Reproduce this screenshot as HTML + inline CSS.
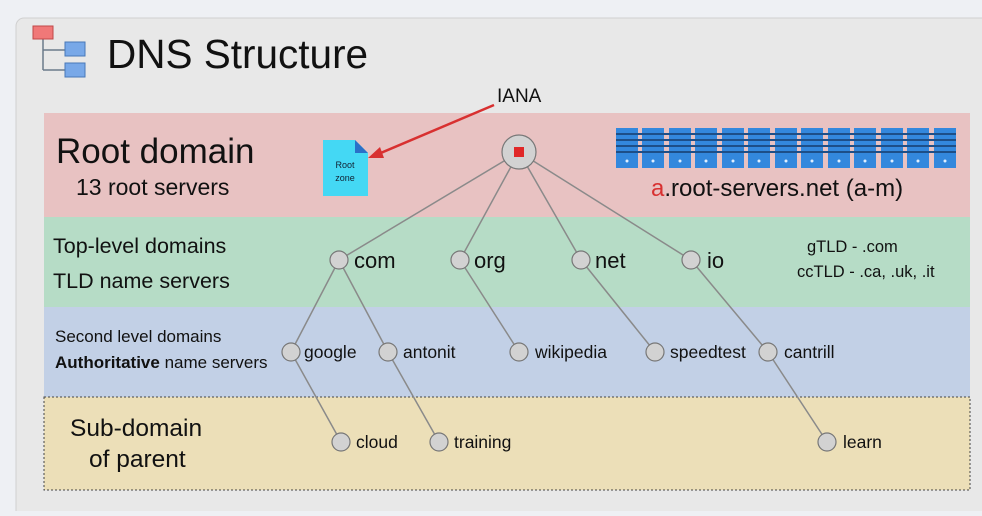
<!DOCTYPE html>
<html><head><style>
body{margin:0;width:982px;height:511px;background:#eef0f4;overflow:hidden;font-family:"Liberation Sans",sans-serif}
</style></head><body>
<svg width="982" height="511" viewBox="0 0 982 511" xmlns="http://www.w3.org/2000/svg" font-family="Liberation Sans, sans-serif">
<rect x="16" y="18" width="980" height="500" rx="8" fill="#e8e8e8" stroke="#d0d0d0"/>
<line x1="43" y1="38" x2="43" y2="70" stroke="#6a7a8a" stroke-width="1.5"/>
<line x1="43" y1="50" x2="66" y2="50" stroke="#6a7a8a" stroke-width="1.5"/>
<line x1="43" y1="70" x2="66" y2="70" stroke="#6a7a8a" stroke-width="1.5"/>
<rect x="33" y="26" width="20" height="13" fill="#f07878" stroke="#c04848"/>
<rect x="65" y="42" width="20" height="14" fill="#78a8e8" stroke="#4878b8"/>
<rect x="65" y="63" width="20" height="14" fill="#78a8e8" stroke="#4878b8"/>
<text x="107" y="68" font-size="40.5" fill="#111">DNS Structure</text>
<rect x="44" y="113" width="926" height="104" fill="#e8c2c2"/>
<rect x="44" y="217" width="926" height="90" fill="#b6dcc6"/>
<rect x="44" y="307" width="926" height="90" fill="#c2d0e6"/>
<rect x="44" y="397" width="926" height="93" fill="#ecdfb8" stroke="#444" stroke-dasharray="2,2"/>
<text x="56" y="163" font-size="35" fill="#111">Root domain</text>
<text x="76" y="195" font-size="23" fill="#111">13 root servers</text>
<text x="53" y="253" font-size="21.5" fill="#111">Top-level domains</text>
<text x="53" y="288" font-size="21.5" fill="#111">TLD name servers</text>
<text x="55" y="342" font-size="17" fill="#111">Second level domains</text>
<text x="55" y="368" font-size="17" fill="#111"><tspan font-weight="bold">Authoritative</tspan> name servers</text>
<text x="70" y="436" font-size="24.5" fill="#111">Sub-domain</text>
<text x="89" y="467" font-size="24.5" fill="#111">of parent</text>
<text x="497" y="102" font-size="19" fill="#111">IANA</text>
<path d="M323 140 H355 L368 153 V196 H323 Z" fill="#44d8f4"/>
<path d="M355 140 L368 153 H355 Z" fill="#2a70c8"/>
<text x="345" y="168" font-size="9" text-anchor="middle" fill="#123">Root</text>
<text x="345" y="181" font-size="9" text-anchor="middle" fill="#123">zone</text>
<line x1="494" y1="105" x2="376" y2="155" stroke="#d83030" stroke-width="2.5"/>
<polygon points="368,158 380,147 384,158" fill="#d83030"/>
<g fill="#3388dd">
<rect x="616" y="128" width="22" height="40"/><rect x="642" y="128" width="22" height="40"/><rect x="669" y="128" width="22" height="40"/><rect x="695" y="128" width="22" height="40"/><rect x="722" y="128" width="22" height="40"/><rect x="748" y="128" width="22" height="40"/><rect x="775" y="128" width="22" height="40"/><rect x="801" y="128" width="22" height="40"/><rect x="828" y="128" width="22" height="40"/><rect x="854" y="128" width="22" height="40"/><rect x="881" y="128" width="22" height="40"/><rect x="907" y="128" width="22" height="40"/><rect x="934" y="128" width="22" height="40"/>
</g>
<g stroke="#1d4f88" stroke-width="2">
<path d="M616 134H956M616 140H956M616 146H956M616 152H956"/>
</g>
<g fill="#dfefff">
<circle cx="627" cy="161" r="1.5"/><circle cx="653" cy="161" r="1.5"/><circle cx="680" cy="161" r="1.5"/><circle cx="706" cy="161" r="1.5"/><circle cx="733" cy="161" r="1.5"/><circle cx="759" cy="161" r="1.5"/><circle cx="786" cy="161" r="1.5"/><circle cx="812" cy="161" r="1.5"/><circle cx="839" cy="161" r="1.5"/><circle cx="865" cy="161" r="1.5"/><circle cx="892" cy="161" r="1.5"/><circle cx="918" cy="161" r="1.5"/><circle cx="945" cy="161" r="1.5"/>
</g>
<text x="651" y="196" font-size="24" fill="#111"><tspan fill="#d83030">a</tspan>.root-servers.net (a-m)</text>
<text x="807" y="252" font-size="16.5" fill="#111">gTLD - .com</text>
<text x="797" y="277" font-size="16.5" fill="#111">ccTLD - .ca, .uk, .it</text>
<g stroke="#8a8a8a" stroke-width="1.5">
<line x1="519" y1="152" x2="339" y2="260"/><line x1="519" y1="152" x2="460" y2="260"/>
<line x1="519" y1="152" x2="581" y2="260"/><line x1="519" y1="152" x2="691" y2="260"/>
<line x1="339" y1="260" x2="291" y2="352"/><line x1="339" y1="260" x2="388" y2="352"/>
<line x1="460" y1="260" x2="519" y2="352"/><line x1="581" y1="260" x2="655" y2="352"/>
<line x1="691" y1="260" x2="768" y2="352"/>
<line x1="291" y1="352" x2="341" y2="442"/><line x1="388" y1="352" x2="439" y2="442"/>
<line x1="768" y1="352" x2="827" y2="442"/>
</g>
<g fill="#d2d2d2" stroke="#777" stroke-width="1.2">
<circle cx="519" cy="152" r="17"/>
<circle cx="339" cy="260" r="9"/><circle cx="460" cy="260" r="9"/><circle cx="581" cy="260" r="9"/><circle cx="691" cy="260" r="9"/>
<circle cx="291" cy="352" r="9"/><circle cx="388" cy="352" r="9"/><circle cx="519" cy="352" r="9"/><circle cx="655" cy="352" r="9"/><circle cx="768" cy="352" r="9"/>
<circle cx="341" cy="442" r="9"/><circle cx="439" cy="442" r="9"/><circle cx="827" cy="442" r="9"/>
</g>
<rect x="514" y="147" width="10" height="10" fill="#e02828"/>
<g font-size="22" fill="#111">
<text x="354" y="268">com</text><text x="474" y="268">org</text><text x="595" y="268">net</text><text x="707" y="268">io</text>
</g>
<g font-size="17.5" fill="#111">
<text x="304" y="358">google</text><text x="403" y="358">antonit</text><text x="535" y="358">wikipedia</text><text x="670" y="358">speedtest</text><text x="784" y="358">cantrill</text>
<text x="356" y="448">cloud</text><text x="454" y="448">training</text><text x="843" y="448">learn</text>
</g>
</svg>
</body></html>
